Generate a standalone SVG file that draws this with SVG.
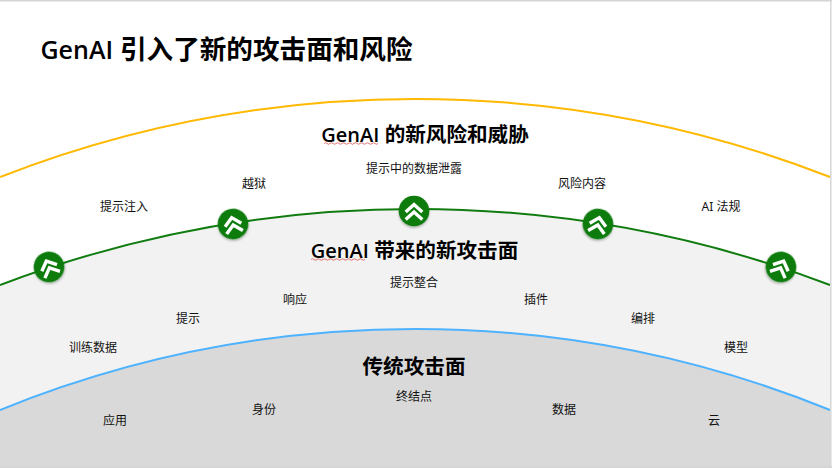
<svg xmlns="http://www.w3.org/2000/svg" width="832" height="468" viewBox="0 0 832 468">
<style>
text{font-family:"Noto Sans","Noto Sans CJK SC",sans-serif;fill:#000;text-anchor:middle}
.t{font-size:12px;fill:#111}
.h{font-size:20.6px;font-weight:700}
.g{font-family:"Open Sans","Noto Sans",sans-serif;font-weight:600;font-size:20px}
.sq{fill:none;stroke:#d9534f;stroke-width:.8}
.ch{fill:none;stroke:#fff;stroke-width:3.4}
</style>
<defs>
<filter id="sh" x="-30%" y="-30%" width="160%" height="170%"><feDropShadow dx="0" dy="1.5" stdDeviation="1.2" flood-color="#000" flood-opacity=".3"/></filter>
<g id="icon"><circle r="15.3" fill="#107c10" filter="url(#sh)"/><path class="ch" d="M-8.300 1L0 -6.500L8.300 1M-8.300 8.500L0 1L8.300 8.500"/></g>
</defs>
<rect width="832" height="468" fill="#fff"/>
<g id="bands">
<path d="M0 285A1171 1171 0 0 1 830 285V467H0Z" fill="#f2f2f2"/>
<path d="M0 410A1103 1103 0 0 1 830 410V467H0Z" fill="#d9d9d9"/>
</g>
<g id="connectors" fill="none" stroke-width="2">
<path d="M0 177A1143 1143 0 0 1 830 177" stroke="#ffb900"/>
<path d="M0 285A1171 1171 0 0 1 830 285" stroke="#107c10"/>
<path d="M0 410A1103 1103 0 0 1 830 410" stroke="#4db2ff"/>
</g>
<path d="M0 .8H832M830.8 0V468M0 467.2H832" fill="none" stroke="#d4d4d4" stroke-width="1.4"/>
<g id="title"><text x="226.500" y="59" style="font-size:26.600px;font-weight:700"><tspan class="g" style="font-size:25px">GenAI</tspan> 引入了新的攻击面和风险</text></g>
<g id="risk-heading"><text class="h" x="425" y="142"><tspan class="g">GenAI</tspan> 的新风险和威胁</text><path class="sq" d="M324 143.500q1.500-1.500 3 0t3 0t3 0t3 0t3 0t3 0t3 0t3 0t3 0t3 0t3 0t3 0t3 0t3 0t3 0t3 0t3 0t3 0"/></g>
<g id="surface-heading"><text class="h" x="414.500" y="258"><tspan class="g">GenAI</tspan> 带来的新攻击面</text><path class="sq" d="M311 259.500q1.500-1.500 3 0t3 0t3 0t3 0t3 0t3 0t3 0t3 0t3 0t3 0t3 0t3 0t3 0t3 0t3 0t3 0t3 0t3 0"/></g>
<g id="trad-heading"><text class="h" x="414" y="374">传统攻击面</text></g>
<g id="n-prompt-injection"><text class="t" x="124" y="211">提示注入</text></g>
<g id="n-jailbreak"><text class="t" x="254" y="188">越狱</text></g>
<g id="n-prompt-leak"><text class="t" x="414" y="173">提示中的数据泄露</text></g>
<g id="n-risk-content"><text class="t" x="582" y="188">风险内容</text></g>
<g id="n-ai-reg"><text class="t" x="721" y="211">AI 法规</text></g>
<g id="n-training"><text class="t" x="93" y="352">训练数据</text></g>
<g id="n-prompt"><text class="t" x="188" y="323">提示</text></g>
<g id="n-response"><text class="t" x="295" y="304">响应</text></g>
<g id="n-integration"><text class="t" x="414" y="287">提示整合</text></g>
<g id="n-plugin"><text class="t" x="536" y="304">插件</text></g>
<g id="n-orchestration"><text class="t" x="643" y="323">编排</text></g>
<g id="n-model"><text class="t" x="736" y="352">模型</text></g>
<g id="n-app"><text class="t" x="115" y="425">应用</text></g>
<g id="n-identity"><text class="t" x="264" y="414">身份</text></g>
<g id="n-endpoint"><text class="t" x="414" y="401">终结点</text></g>
<g id="n-data"><text class="t" x="564" y="414">数据</text></g>
<g id="n-cloud"><text class="t" x="714" y="425">云</text></g>
<g id="icon-1"><use href="#icon" transform="translate(49 267) rotate(-24)"/></g>
<g id="icon-2"><use href="#icon" transform="translate(233 224) rotate(-12)"/></g>
<g id="icon-3"><use href="#icon" transform="translate(414 211)"/></g>
<g id="icon-4"><use href="#icon" transform="translate(598 224) rotate(12)"/></g>
<g id="icon-5"><use href="#icon" transform="translate(781 267) rotate(24)"/></g>
</svg>
